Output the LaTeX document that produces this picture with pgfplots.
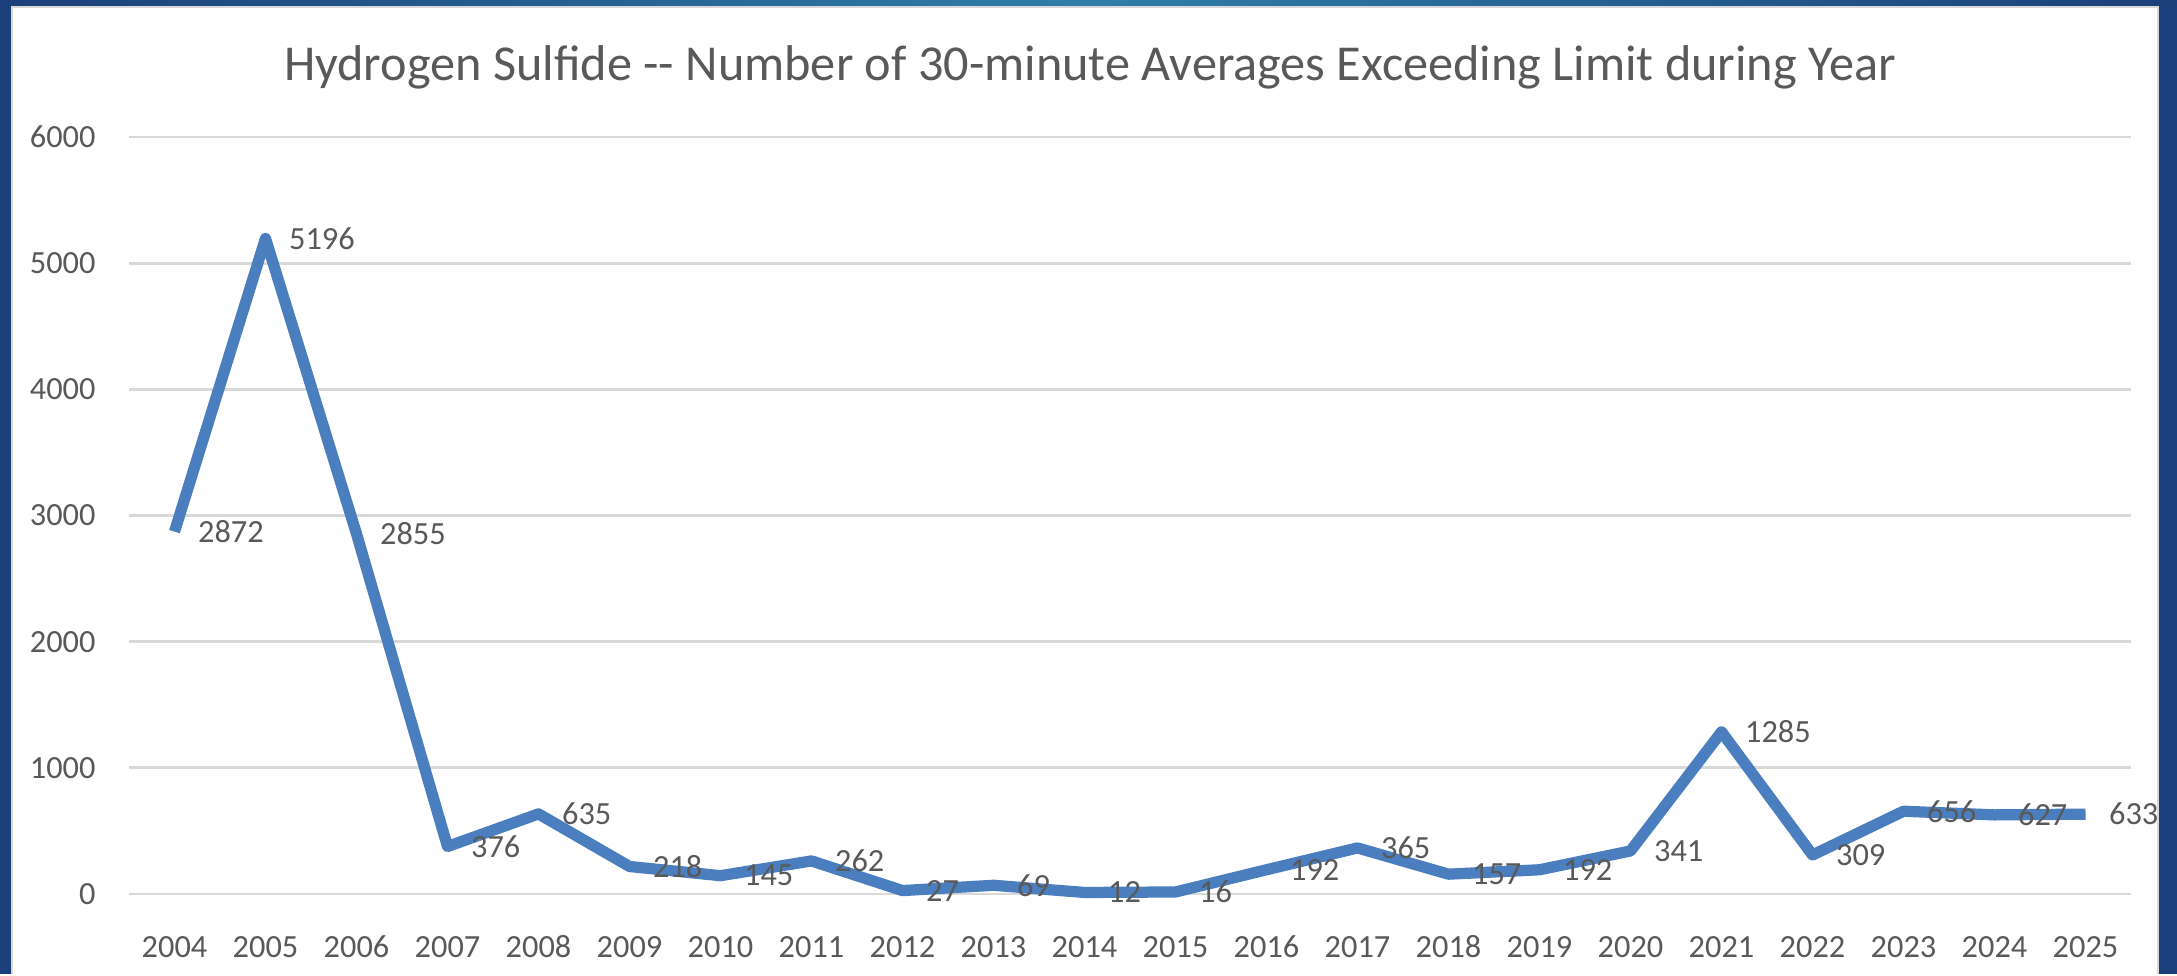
\documentclass[border=0pt]{standalone}
\usepackage{fontspec}
\setmainfont{Carlito}
\usepackage{pgfplots}
\pgfplotsset{compat=1.18}
\definecolor{lineblue}{HTML}{4A7EBF}
\definecolor{txtgray}{HTML}{595959}
\definecolor{gridgray}{HTML}{D9D9D9}
\definecolor{frameblue}{HTML}{1B3F7A}
\definecolor{frameteal}{HTML}{2F7FA8}

\begin{document}
\begin{tikzpicture}
% slide frame
\fill[frameblue] (0,0) rectangle (21.77,9.74);
\fill[left color=frameblue, right color=frameblue, middle color=frameteal] (0,9.68) rectangle (21.77,9.74);
\fill[white] (0.11,0) rectangle (21.59,9.68);
\draw[gridgray, line width=0.8pt] (0.12,0) -- (0.12,9.67) -- (21.58,9.67) -- (21.58,0);

\begin{axis}[
  at={(1.29cm,0.80cm)}, anchor=south west,
  scale only axis,
  width=20.02cm, height=7.57cm,
  xmin=-0.5, xmax=21.5,
  ymin=0, ymax=6000,
  xtick={0,...,21},
  xticklabels={2004,2005,2006,2007,2008,2009,2010,2011,2012,2013,2014,2015,
               2016,2017,2018,2019,2020,2021,2022,2023,2024,2025},
  ytick={0,1000,...,6000},
  axis line style={draw=none},
  major tick length=0pt,
  ymajorgrids, grid style={gridgray, line width=0.8pt},
  tick label style={font=\fontsize{9.2}{10}\selectfont, text=txtgray},
  /pgf/number format/assume math mode=true,
  /pgf/number format/set thousands separator={},
  xticklabel style={yshift=-7pt, text height=1.6ex, text depth=0pt},
  yticklabel style={xshift=-6pt},
  clip=false,
  nodes near coords,
  nodes near coords style={anchor=west, xshift=1.8pt, font=\fontsize{9.2}{10}\selectfont, text=txtgray,
    /pgf/number format/set thousands separator={}, /pgf/number format/assume math mode=true},
]
\addplot[lineblue, line width=3.2pt, line join=round, mark=none] coordinates {
  (0,2872) (1,5196) (2,2855) (3,376) (4,635) (5,218) (6,145) (7,262)
  (8,27) (9,69) (10,12) (11,16) (12,192) (13,365) (14,157) (15,192)
  (16,341) (17,1285) (18,309) (19,656) (20,627) (21,633)
};
\end{axis}
\node[text=txtgray, font=\fontsize{14.3}{16}\selectfont] at (10.9,9.07)
  {Hydrogen Sulfide -{}- Number of 30-minute Averages Exceeding Limit during Year};
\end{tikzpicture}
\end{document}
